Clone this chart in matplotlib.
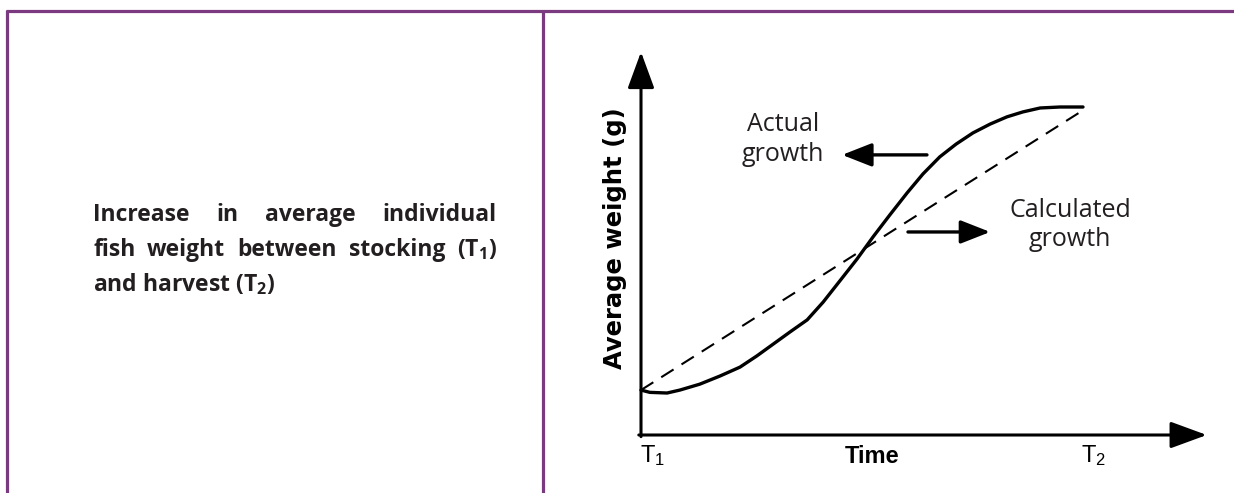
import matplotlib
matplotlib.use('Agg')
import matplotlib.pyplot as plt
from matplotlib.lines import Line2D

plt.rcParams['font.family'] = ['Open Sans', 'DejaVu Sans']
plt.rcParams['mathtext.default'] = 'regular'

# ---------------- data ----------------
time_actual = [0.0, 0.20, 0.59, 0.88, 1.33, 1.79, 2.24, 2.62, 2.99, 3.37, 3.76, 4.12, 4.50,
               4.89, 5.25, 5.63, 6.02, 6.38, 6.76, 7.13, 7.51, 7.90, 8.28, 8.64, 9.03, 9.48, 10.0]
weight_actual = [1.37, 1.30, 1.28, 1.37, 1.55, 1.80, 2.07, 2.41, 2.77, 3.14, 3.51, 4.05, 4.70,
                 5.37, 6.04, 6.71, 7.38, 7.96, 8.48, 8.87, 9.21, 9.48, 9.70, 9.85, 9.97, 10.0, 10.0]
time_calc = [0.0, 10.0]
weight_calc = [1.37, 9.9]
x_tick_positions = [0.27, 10.23]
x_tick_labels = ['T$_1$', 'T$_2$']
x_label = 'Time'
y_label = 'Average weight (g)'
label_actual = 'Actual\ngrowth'
label_calc = 'Calculated\ngrowth'
desc_line1 = ['Increase', 'in', 'average', 'individual']
desc_line2 = ['fish', 'weight', 'between', 'stocking', '(T$_1$)']
desc_line3 = 'and harvest (T$_2$)'

W, H = 1234, 493
PURPLE = '#7b3a80'
TXT = '#231f20'

fig = plt.figure(figsize=(W / 100, H / 100), dpi=100)
fig.patch.set_facecolor('white')

# table borders
def fline(xs, ys):
    fig.add_artist(Line2D([x / W for x in xs], [1 - y / H for y in ys],
                          transform=fig.transFigure, color=PURPLE, lw=2.3,
                          solid_capstyle='butt'))

fline([6, W], [10.5, 10.5])
fline([7, 7], [10, H])
fline([543, 543], [10, H])

# justified description text
renderer = fig.canvas.get_renderer()
desc_kw = dict(fontsize=16.5, fontweight='bold', color=TXT, va='baseline',
               ha='left', family=['Open Sans', 'DejaVu Sans'])

def justified(words, x0, x1, ybase):
    texts = [fig.text(0, 1 - ybase / H, w, **desc_kw) for w in words]
    widths = [t.get_window_extent(renderer).width for t in texts]
    gap = (x1 - x0 - sum(widths)) / (len(words) - 1)
    x = x0
    for t, w in zip(texts, widths):
        t.set_x(x / W)
        x += w + gap

justified(desc_line1, 93, 497, 221)
justified(desc_line2, 93, 497, 256)
fig.text(93 / W, 1 - 291 / H, desc_line3, **desc_kw)

# ---------------- chart ----------------
ax = fig.add_axes([641 / W, (H - 435) / H, 442 / W, 328 / H])
ax.set_xlim(0, 10)
ax.set_ylim(0, 10)
ax.axis('off')

ax.plot(time_actual, weight_actual, color='black', lw=2.4,
        solid_joinstyle='round', solid_capstyle='round', clip_on=False)
ax.plot(time_calc, weight_calc, color='black', lw=1.5, dashes=(7, 4.5),
        clip_on=False)

axis_arrow = dict(arrowstyle='-|>,head_length=1.5,head_width=0.55', lw=2.2,
                  color='black', mutation_scale=15, shrinkA=0, shrinkB=0)
ax.annotate('', xy=(0, 11.68), xytext=(0, -0.05), arrowprops=axis_arrow,
            annotation_clip=False)
ax.annotate('', xy=(12.8, 0), xytext=(-0.05, 0), arrowprops=axis_arrow,
            annotation_clip=False)

lab_arrow = dict(arrowstyle='-|>,head_length=1.4,head_width=0.55', lw=2.4,
                 color='black', mutation_scale=13, shrinkA=0, shrinkB=0)
ax.annotate('', xy=(4.55, 8.54), xytext=(6.47, 8.54), arrowprops=lab_arrow,
            annotation_clip=False)
ax.annotate('', xy=(7.9, 6.19), xytext=(6.04, 6.19), arrowprops=lab_arrow,
            annotation_clip=False)

ax.text(3.21, 9.0, label_actual, ha='center', va='center', fontsize=18,
        color=TXT, linespacing=1.25)
ax.text(9.71, 6.4, label_calc, ha='center', va='center', fontsize=18,
        color=TXT, linespacing=1.25)

ax.text(-0.59, 6.0, y_label, rotation=90, ha='center', va='center',
        fontsize=17.5, fontweight='bold', color='black',
        family=['DejaVu Sans'])
ax.text(5.23, -0.67, x_label, ha='center', va='center', fontsize=17,
        fontweight='bold', color='black', family=['Liberation Sans', 'DejaVu Sans'])
for xp, lab in zip(x_tick_positions, x_tick_labels):
    ax.text(xp, -0.62, lab, ha='center', va='center', fontsize=17,
            color='black', family=['Liberation Sans Narrow', 'Liberation Sans', 'DejaVu Sans'])

fig.savefig('out.png', dpi=100, facecolor='white')
